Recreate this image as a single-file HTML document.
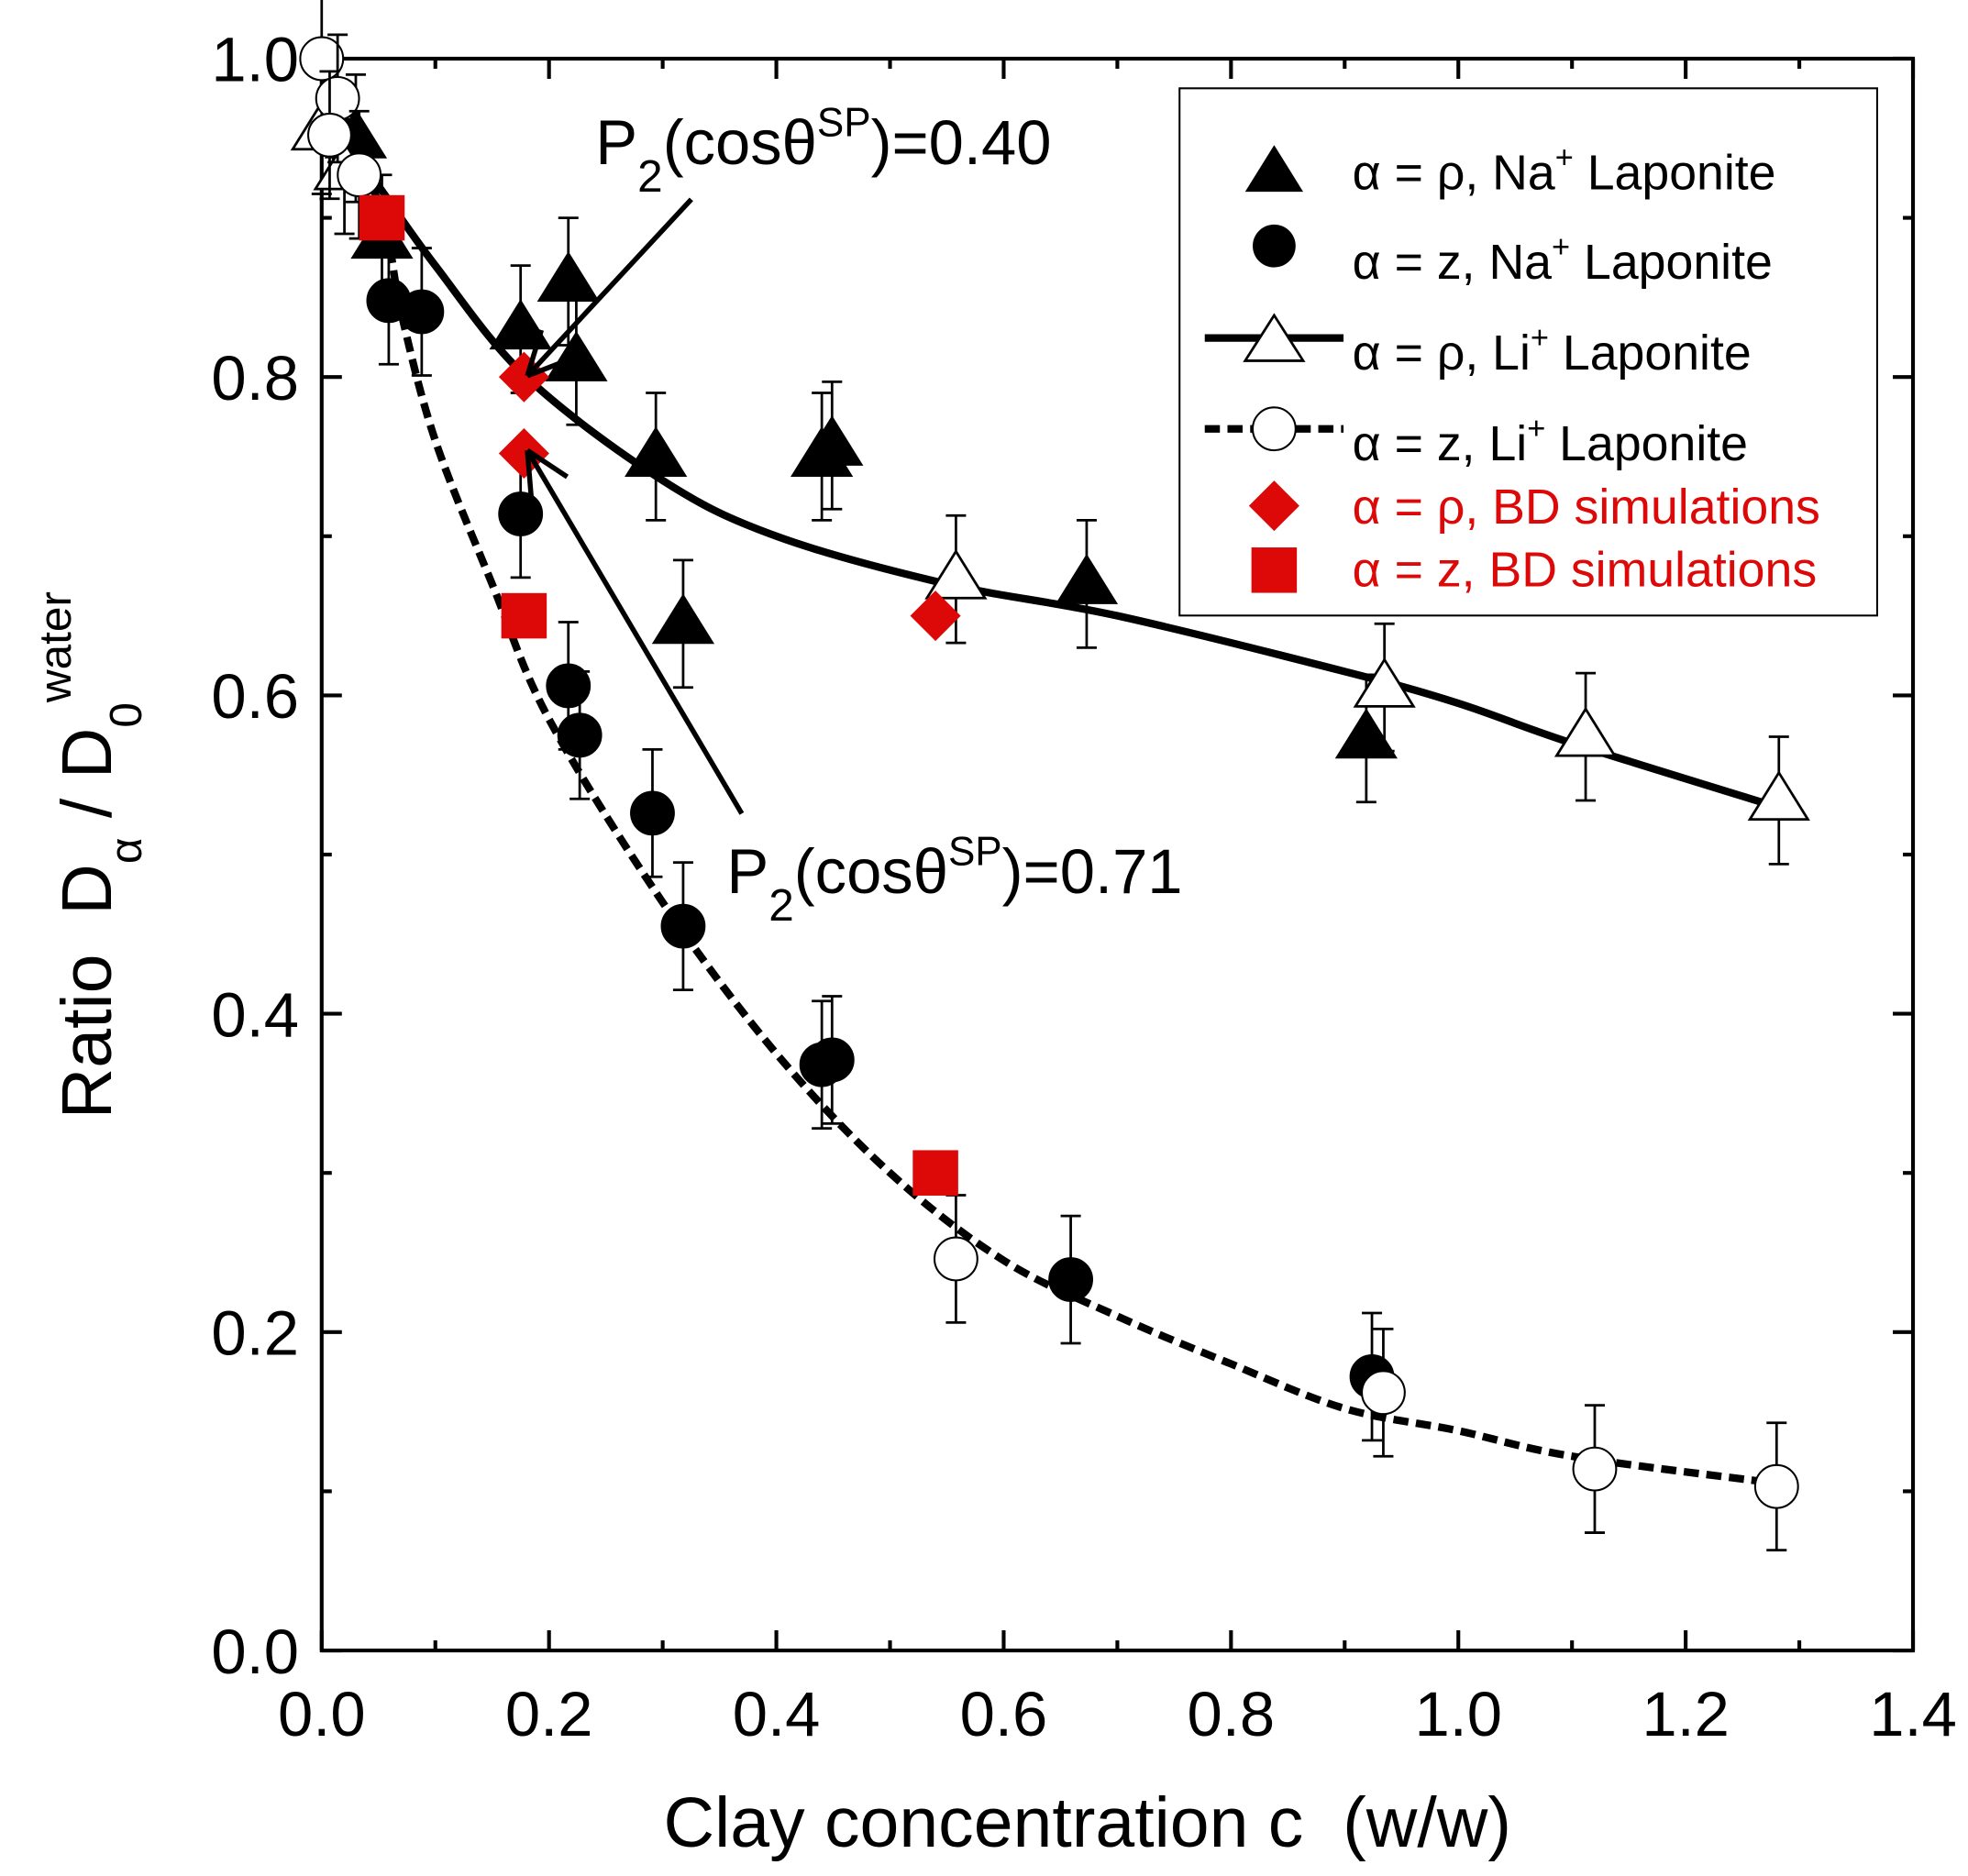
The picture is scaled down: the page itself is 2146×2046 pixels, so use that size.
<!DOCTYPE html>
<html><head><meta charset="utf-8"><style>
html,body{margin:0;padding:0;background:#fff;}
svg{display:block;font-family:"Liberation Sans",Arial,sans-serif;}
</style></head><body>
<svg id="chart" width="2146" height="2046" viewBox="0 0 1560 1487.3" xmlns="http://www.w3.org/2000/svg">
<g id="plot"></g>
</svg>
<script>
const xTicks=[0,0.2,0.4,0.6,0.8,1.0,1.2,1.4];
const xTickLabels=["0.0","0.2","0.4","0.6","0.8","1.0","1.2","1.4"];
const yTicks=[0,0.2,0.4,0.6,0.8,1.0];
const yTickLabels=["0.0","0.2","0.4","0.6","0.8","1.0"];
const naRhoX=[0.01,0.03,0.053,0.175,0.217,0.224,0.294,0.318,0.44,0.449,0.673,0.919];
const naRhoY=[0.96,0.95,0.887,0.83,0.86,0.81,0.75,0.645,0.75,0.757,0.67,0.573];
const naZX=[0.059,0.088,0.175,0.217,0.227,0.291,0.318,0.44,0.449,0.659,0.924];
const naZY=[0.848,0.841,0.714,0.606,0.575,0.526,0.455,0.368,0.371,0.233,0.172];
const liRhoX=[0.0,0.02,0.558,0.935,1.112,1.282];
const liRhoY=[0.955,0.93,0.673,0.605,0.574,0.534];
const liZX=[0.0,0.014,0.007,0.033,0.558,0.934,1.12,1.28];
const liZY=[1.0,0.975,0.952,0.927,0.246,0.162,0.114,0.103];
const bdRhoX=[0.178,0.178,0.54];
const bdRhoY=[0.80,0.752,0.65];
const bdZX=[0.053,0.178,0.54];
const bdZY=[0.90,0.65,0.30];
const fitRhoX=[0.0,0.05,0.1,0.18,0.3,0.4,0.55,0.7,0.9,1.0,1.1,1.28];
const fitRhoY=[0.97,0.92,0.87,0.80,0.735,0.70,0.67,0.65,0.615,0.595,0.57,0.53];
const fitZX=[0.0,0.05,0.07,0.1,0.15,0.2,0.3,0.4,0.5,0.6,0.7,0.8,0.9,1.0,1.1,1.28];
const fitZY=[0.97,0.91,0.84,0.76,0.67,0.585,0.47,0.375,0.30,0.245,0.21,0.18,0.152,0.138,0.122,0.105];
const errBar=0.04;

const X0=255,X1=1516.4,Y0=1308.5,Y1=46.5;
const sx=v=>X0+(X1-X0)*v/1.4;
const sy=v=>Y0-(Y0-Y1)*v/1.0;
const NS="http://www.w3.org/2000/svg";
const g=document.getElementById('plot');
function mk(tag,attrs,parent){const e=document.createElementNS(NS,tag);for(const k in attrs)e.setAttribute(k,attrs[k]);(parent||g).appendChild(e);return e;}

let fr=mk('rect',{x:X0,y:Y1,width:X1-X0,height:Y0-Y1,fill:'none',stroke:'#000','stroke-width':3});


for(let i=0;i<=14;i++){const v=i*0.1,x=sx(v),L=(i%2==0)?16:8;
 mk('line',{x1:x,y1:Y0,x2:x,y2:Y0-L,stroke:'#000','stroke-width':3});
 mk('line',{x1:x,y1:Y1,x2:x,y2:Y1+L,stroke:'#000','stroke-width':3});}
for(let i=0;i<=10;i++){const v=i*0.1,y=sy(v),L=(i%2==0)?16:8;
 mk('line',{x1:X0,y1:y,x2:X0+L,y2:y,stroke:'#000','stroke-width':3});
 mk('line',{x1:X1,y1:y,x2:X1-L,y2:y,stroke:'#000','stroke-width':3});}
xTicks.forEach((v,i)=>{const t=mk('text',{x:sx(v),y:1376,'font-size':50,'text-anchor':'middle'});t.textContent=xTickLabels[i];
 
 });
yTicks.forEach((v,i)=>{const t=mk('text',{x:237,y:sy(v)+18,'font-size':50,'text-anchor':'end'});t.textContent=yTickLabels[i];
 
 });

function smoothPath(xs,ys){const p=xs.map((x,i)=>[sx(x),sy(ys[i])]);let d='M'+p[0][0].toFixed(1)+','+p[0][1].toFixed(1);
 for(let i=0;i<p.length-1;i++){const p0=p[Math.max(i-1,0)],p1=p[i],p2=p[i+1],p3=p[Math.min(i+2,p.length-1)];
  const c1=[p1[0]+(p2[0]-p0[0])/6,p1[1]+(p2[1]-p0[1])/6],c2=[p2[0]-(p3[0]-p1[0])/6,p2[1]-(p3[1]-p1[1])/6];
  d+=` C${c1[0].toFixed(1)},${c1[1].toFixed(1)} ${c2[0].toFixed(1)},${c2[1].toFixed(1)} ${p2[0].toFixed(1)},${p2[1].toFixed(1)}`;}
 return d;}
let c1=mk('path',{d:smoothPath(fitRhoX,fitRhoY),fill:'none',stroke:'#000','stroke-width':6,'stroke-linejoin':'round'});


let c2=mk('path',{d:smoothPath(fitZX,fitZY),fill:'none',stroke:'#000','stroke-width':6,'stroke-dasharray':'12,6'});



function err(x,y){const px=sx(x),p1=sy(y+errBar),p2=sy(y-errBar);
 mk('line',{x1:px,y1:p1,x2:px,y2:p2,stroke:'#000','stroke-width':2});
 mk('line',{x1:px-8,y1:p1,x2:px+8,y2:p1,stroke:'#000','stroke-width':2});
 mk('line',{x1:px-8,y1:p2,x2:px+8,y2:p2,stroke:'#000','stroke-width':2});}
function tri(px,py,fill){return mk('polygon',{points:`${px},${py-22} ${px-23},${py+15} ${px+23},${py+15}`,fill:fill,stroke:'#000','stroke-width':2});}
function circ(px,py,fill){return mk('circle',{cx:px,cy:py,r:17,fill:fill,stroke:'#000','stroke-width':1.5});}
function diam(px,py){return mk('polygon',{points:`${px},${py-20} ${px+20},${py} ${px},${py+20} ${px-20},${py}`,fill:'#dd0808'});}
function sq(px,py){return mk('rect',{x:px-18,y:py-18,width:36,height:36,fill:'#dd0808'});}
naRhoX.forEach((x,i)=>{err(x,naRhoY[i]);const m=tri(sx(x),sy(naRhoY[i]),'#000');
 
 });
naZX.forEach((x,i)=>{err(x,naZY[i]);const m=circ(sx(x),sy(naZY[i]),'#000');
 
 });
liRhoX.forEach((x,i)=>{err(x,liRhoY[i]);const m=tri(sx(x),sy(liRhoY[i]),'#fff');
 
 });
liZX.forEach((x,i)=>{err(x,liZY[i]);const m=circ(sx(x),sy(liZY[i]),'#fff');
 
 });
bdZX.forEach((x,i)=>{const m=sq(sx(x),sy(bdZY[i]));
 
 });
bdRhoX.forEach((x,i)=>{const m=diam(sx(x),sy(bdRhoY[i]));
 
 });
</script>
<script>
(function(){
const NS="http://www.w3.org/2000/svg";const svg=document.getElementById('chart');
function mk(tag,attrs,parent){const e=document.createElementNS(NS,tag);for(const k in attrs)e.setAttribute(k,attrs[k]);(parent||svg).appendChild(e);return e;}
[[548,158,418,298],[588,645,418,357]].forEach(a=>{
 const l=mk('line',{x1:a[0],y1:a[1],x2:a[2],y2:a[3],stroke:'#000','stroke-width':4});
 
 
 const ang=Math.atan2(a[3]-a[1],a[2]-a[0]);
 [0.45,-0.45].forEach(d=>{mk('line',{x1:a[2],y1:a[3],x2:a[2]-38*Math.cos(ang+d),y2:a[3]-38*Math.sin(ang+d),stroke:'#000','stroke-width':4});});
});
svg.insertAdjacentHTML('beforeend',`
<text x="472" y="130" font-size="50">P<tspan font-size="36" dy="22">2</tspan><tspan dy="-22">(cosθ</tspan><tspan font-size="32" dy="-22">SP</tspan><tspan dy="22">)=0.40</tspan></text>
<text x="576" y="708" font-size="50">P<tspan font-size="36" dy="22">2</tspan><tspan dy="-22">(cosθ</tspan><tspan font-size="32" dy="-22">SP</tspan><tspan dy="22">)=0.71</tspan></text>
<text x="862" y="1464" font-size="56" text-anchor="middle" xml:space="preserve">Clay concentration c  (w/w)</text>
<text transform="translate(88,678) rotate(-90)" font-size="56" text-anchor="middle" xml:space="preserve">Ratio  D<tspan font-size="36" dy="24">α</tspan><tspan dy="-24"> / D</tspan><tspan font-size="36" dy="24">0</tspan><tspan font-size="36" dy="-56">water</tspan></text>
<g>
<rect x="935" y="70" width="553" height="418" fill="#fff" stroke="#000" stroke-width="1.5"/>
<polygon points="1010,115 987,152 1033,152" fill="#000"/>
<text x="1072" y="150" font-size="39">α = ρ, Na<tspan font-size="25" dy="-17">+</tspan><tspan dy="17"> Laponite</tspan></text>
<circle cx="1010" cy="195" r="17" fill="#000"/>
<text x="1072" y="221" font-size="39">α = z, Na<tspan font-size="25" dy="-17">+</tspan><tspan dy="17"> Laponite</tspan></text>
<line x1="955" y1="268" x2="1065" y2="268" stroke="#000" stroke-width="6"/>
<polygon points="1010,250 987,286 1033,286" fill="#fff" stroke="#000" stroke-width="2"/>
<text x="1072" y="293" font-size="39">α = ρ, Li<tspan font-size="25" dy="-17">+</tspan><tspan dy="17"> Laponite</tspan></text>
<line x1="955" y1="340" x2="1065" y2="340" stroke="#000" stroke-width="6" stroke-dasharray="12,6"/>
<circle cx="1010" cy="340" r="17" fill="#fff" stroke="#000" stroke-width="1.5"/>
<text x="1072" y="365" font-size="39">α = z, Li<tspan font-size="25" dy="-17">+</tspan><tspan dy="17"> Laponite</tspan></text>
<polygon points="1010,381 1030,401 1010,421 990,401" fill="#dd0808"/>
<text x="1072" y="415" font-size="39" fill="#dd0808">α = ρ, BD simulations</text>
<rect x="992" y="434" width="36" height="36" fill="#dd0808"/>
<text x="1072" y="465" font-size="39" fill="#dd0808">α = z, BD simulations</text>
</g>`);
})();
</script>
</body></html>
